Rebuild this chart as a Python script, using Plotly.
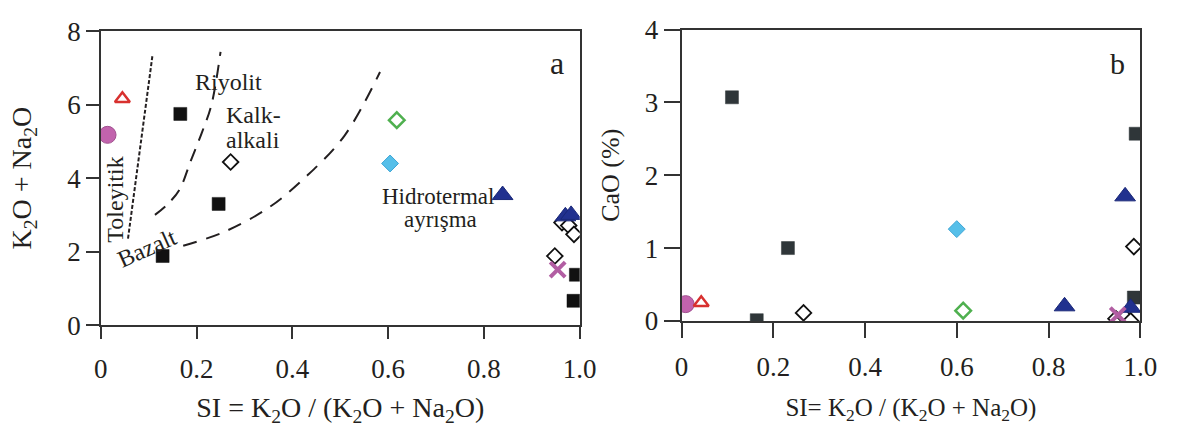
import plotly.graph_objects as go

# ---------------- data ----------------
# Panel a: K2O + Na2O versus SI = K2O / (K2O + Na2O)
sq_a_x = [0.166, 0.246, 0.129, 0.992, 0.987]
sq_a_y = [5.75, 3.30, 1.88, 1.37, 0.66]
open_dia_a_x = [0.271, 0.948, 0.963, 0.977, 0.988]
open_dia_a_y = [4.44, 1.88, 2.79, 2.71, 2.47]
circle_a_x = [0.014]
circle_a_y = [5.18]
red_tri_a_x = [0.045]
red_tri_a_y = [6.16]
green_dia_a_x = [0.618]
green_dia_a_y = [5.58]
blue_dia_a_x = [0.604]
blue_dia_a_y = [4.40]
blue_tri_a_x = [0.839, 0.970, 0.982]
blue_tri_a_y = [3.54, 2.96, 3.00]
cross_a_x = [0.954]
cross_a_y = [1.51]

# Field boundaries of the classification diagram
tol_line_x = [0.1076, 0.0565]
tol_line_y = [7.32, 2.33]
riy_line_x = [0.113, 0.140, 0.164, 0.188, 0.211, 0.231, 0.250]
riy_line_y = [3.00, 3.30, 3.68, 4.48, 5.24, 6.00, 7.44]
hid_line_x = [0.172, 0.258, 0.352, 0.430, 0.509, 0.583]
hid_line_y = [2.16, 2.54, 3.21, 4.06, 5.16, 6.89]

# Panel b: CaO (%) versus SI
sq_b_x = [0.110, 0.232, 0.164, 0.990, 0.986]
sq_b_y = [3.07, 1.00, 0.01, 2.57, 0.32]
open_dia_b_x = [0.266, 0.986, 0.947, 0.967, 0.979]
open_dia_b_y = [0.11, 1.02, 0.03, 0.05, 0.00]
circle_b_x = [0.009]
circle_b_y = [0.23]
red_tri_b_x = [0.043]
red_tri_b_y = [0.25]
green_dia_b_x = [0.614]
green_dia_b_y = [0.14]
blue_dia_b_x = [0.600]
blue_dia_b_y = [1.26]
blue_tri_b_x = [0.835, 0.967, 0.979]
blue_tri_b_y = [0.20, 1.71, 0.18]
cross_b_x = [0.951]
cross_b_y = [0.08]

x_ticks = [0, 0.2, 0.4, 0.6, 0.8, 1.0]
x_tick_text = ["0", "0.2", "0.4", "0.6", "0.8", "1.0"]
ya_ticks = [0, 2, 4, 6, 8]
yb_ticks = [0, 1, 2, 3, 4]

# ---------------- styles ----------------
FONT = "Liberation Serif"
INK = "#231f20"
SQ_A = "#111111"
SQ_B = "#2f3639"
MAGENTA = "#c263ad"
RED = "#d8312f"
GREEN = "#4fb04f"
LIGHTBLUE = "#56bfe9"
NAVY = "#21318f"
CROSS = "#b25ea3"

fig = go.Figure()


def add_points(x, y, xa, ya, symbol, size, fill, line_color, line_width):
    fig.add_trace(go.Scatter(
        x=x, y=y, mode="markers", xaxis=xa, yaxis=ya, showlegend=False,
        marker=dict(symbol=symbol, size=size, color=fill,
                    line=dict(color=line_color, width=line_width)),
    ))


# boundary lines (panel a)
fig.add_trace(go.Scatter(x=tol_line_x, y=tol_line_y, mode="lines", xaxis="x", yaxis="y",
                         showlegend=False, line=dict(color=INK, width=2, dash="4px,2px")))
fig.add_trace(go.Scatter(x=riy_line_x, y=riy_line_y, mode="lines", xaxis="x", yaxis="y",
                         showlegend=False, line=dict(color=INK, width=2, dash="13px,9px", shape="spline")))
fig.add_trace(go.Scatter(x=hid_line_x, y=hid_line_y, mode="lines", xaxis="x", yaxis="y",
                         showlegend=False, line=dict(color=INK, width=2, dash="14px,10px", shape="spline")))

for (xa, ya, sx, sy, od_x, od_y, c_x, c_y, rt_x, rt_y, gd_x, gd_y, bd_x, bd_y, bt_x, bt_y, cr_x, cr_y, sqc) in [
    ("x", "y", sq_a_x, sq_a_y, open_dia_a_x, open_dia_a_y, circle_a_x, circle_a_y,
     red_tri_a_x, red_tri_a_y, green_dia_a_x, green_dia_a_y, blue_dia_a_x, blue_dia_a_y,
     blue_tri_a_x, blue_tri_a_y, cross_a_x, cross_a_y, SQ_A),
    ("x2", "y2", sq_b_x, sq_b_y, open_dia_b_x, open_dia_b_y, circle_b_x, circle_b_y,
     red_tri_b_x, red_tri_b_y, green_dia_b_x, green_dia_b_y, blue_dia_b_x, blue_dia_b_y,
     blue_tri_b_x, blue_tri_b_y, cross_b_x, cross_b_y, SQ_B),
]:
    add_points(sx, sy, xa, ya, "square", 13, sqc, sqc, 0.5)
    add_points(od_x, od_y, xa, ya, "diamond", 12, "white", "#111111", 1.8)
    add_points(c_x, c_y, xa, ya, "circle", 17, MAGENTA, "#a0508f", 1)
    add_points(rt_x, rt_y, xa, ya, "triangle-up", 13, "white", RED, 2.5)
    add_points(gd_x, gd_y, xa, ya, "diamond", 12, "white", GREEN, 2.5)
    add_points(bd_x, bd_y, xa, ya, "diamond", 13, LIGHTBLUE, "#3ea6d6", 1)
    add_points(bt_x, bt_y, xa, ya, "triangle-up", 18, NAVY, "#1a2878", 1)
    add_points(cr_x, cr_y, xa, ya, "x-thin", 15, CROSS, CROSS, 4)

# ---------------- axes ----------------
def axis(domain, rng, anchor, tickvals, ticklen, title, title_size, standoff,
         ticktext=None, label_gap=None):
    d = dict(
        domain=domain, range=rng, anchor=anchor, tickvals=tickvals,
        showgrid=False, zeroline=False, showline=True, mirror=True,
        linecolor="#333333", linewidth=1.6, ticks="outside", tickcolor="#333333",
        tickwidth=1.6, ticklen=ticklen,
        tickfont=dict(family=FONT, size=27, color=INK),
        title=dict(text=title, standoff=standoff,
                   font=dict(family=FONT, size=title_size, color=INK)),
    )
    if ticktext is not None:
        d["ticktext"] = ticktext
    if label_gap is not None:
        d["ticklabelstandoff"] = label_gap
    return d


fig.update_layout(
    width=1194, height=427,
    margin=dict(l=0, r=0, t=0, b=0),
    paper_bgcolor="white", plot_bgcolor="white",
    font=dict(family=FONT, size=26, color=INK),
    xaxis=axis([0.0802, 0.4895], [0, 1.0], "y", x_ticks, 12,
               "SI = K<sub>2</sub>O / (K<sub>2</sub>O + Na<sub>2</sub>O)", 28, 14,
               x_tick_text, label_gap=7),
    yaxis=axis([0.2190, 0.9590], [0, 8], "x", ya_ticks, 13,
               "K<sub>2</sub>O + Na<sub>2</sub>O", 28, 27),
    xaxis2=axis([0.5765, 0.9686], [0, 1.0], "y2", x_ticks, 15,
                "SI= K<sub>2</sub>O / (K<sub>2</sub>O + Na<sub>2</sub>O)", 25, 17,
                x_tick_text, label_gap=6),
    yaxis2=axis([0.2295, 0.9633], [0, 4], "x2", yb_ticks, 16,
                "CaO (%)", 26, 18),
)

# ---------------- labels ----------------
def label(text, x, y, xref="x", yref="y", size=24, angle=0, xanchor="center"):
    fig.add_annotation(text=text, x=x, y=y, xref=xref, yref=yref, showarrow=False,
                       textangle=angle, xanchor=xanchor, yanchor="middle",
                       font=dict(family=FONT, size=size, color=INK))


label("Riyolit", 0.267, 6.63)
label("Kalk-", 0.258, 5.73, xanchor="left")
label("alkali", 0.258, 5.04, xanchor="left")
label("Toleyitik", 0.030, 3.42, angle=-90)
label("Bazalt", 0.0974, 2.11, angle=-24)
label("Hidrotermal", 0.704, 3.51, size=23)
label("ayrışma", 0.7095, 2.87, size=23)
label("a", 0.952, 7.13, size=32)
label("b", 0.950, 3.54, xref="x2", yref="y2", size=30)

fig.write_html("out.html")
